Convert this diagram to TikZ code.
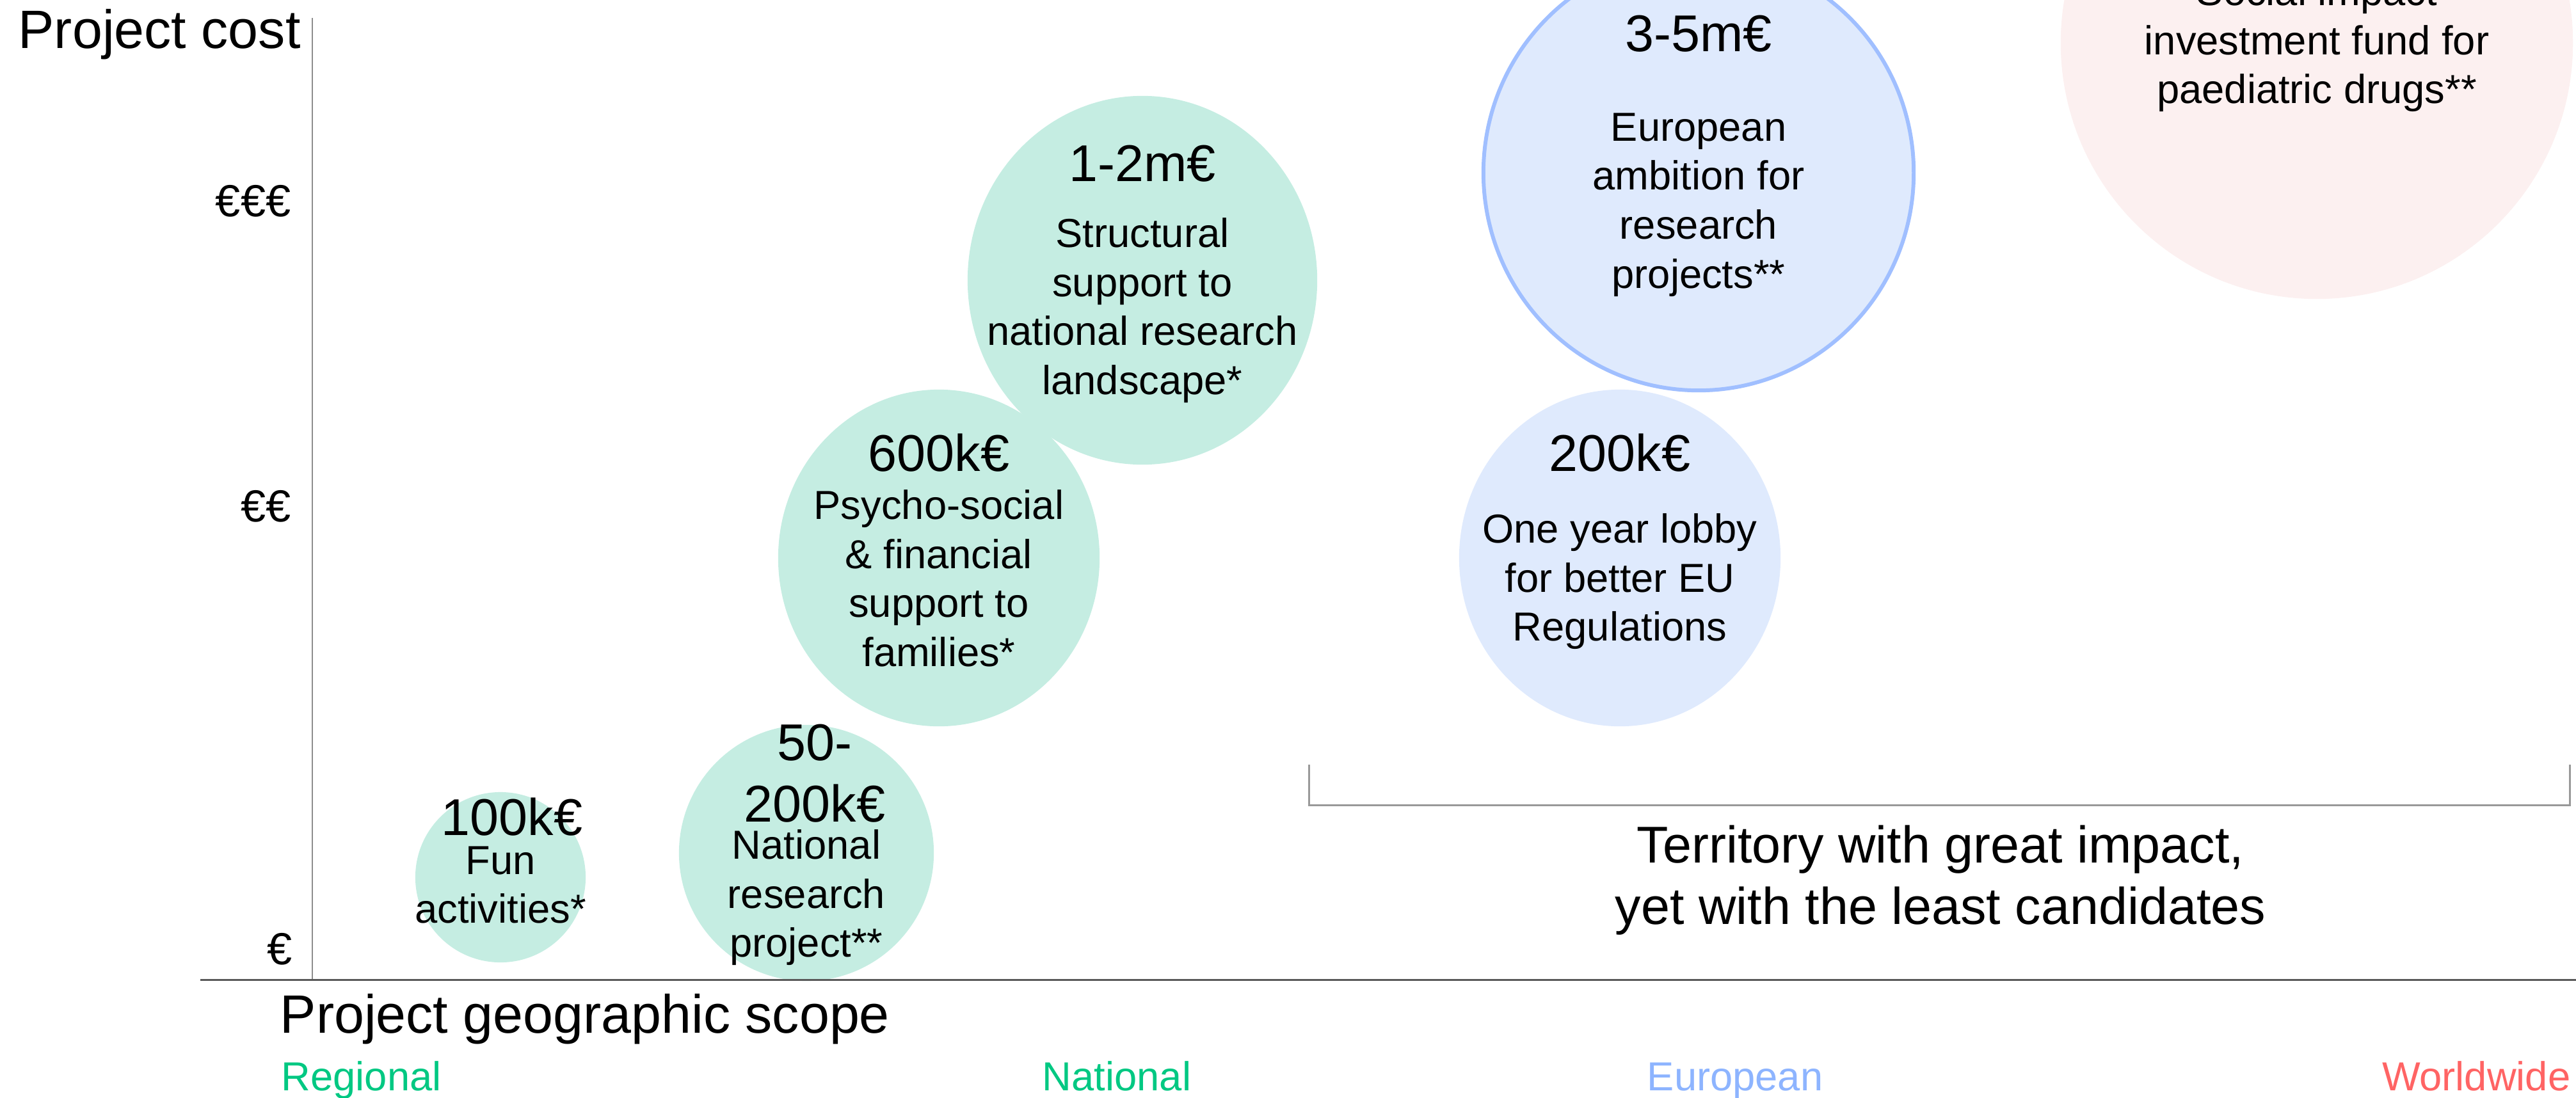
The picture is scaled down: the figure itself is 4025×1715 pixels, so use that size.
\documentclass[tikz,border=0pt]{standalone}
\usepackage{fontspec}
\setmainfont{Liberation Sans}
\usetikzlibrary{shapes.geometric}

\definecolor{natfill}{HTML}{C5EDE2}
\definecolor{eufill}{HTML}{DFEAFD}
\definecolor{euline}{HTML}{A0BFFF}
\definecolor{worldfill}{HTML}{FCF0F0}
\definecolor{natgreen}{HTML}{00C882}
\definecolor{eublue}{HTML}{8DB4FF}
\definecolor{worldred}{HTML}{FF6464}

\begin{document}
\begin{tikzpicture}[x=0.01cm, y=-0.01cm,
    bubble/.style={ellipse, inner sep=0pt},
    price/.style={font=\fontsize{23}{27.3}\selectfont, anchor=base, inner sep=0pt},
    blurb/.style={font=\fontsize{18}{21.8}\selectfont, align=center, anchor=north,
                  inner sep=0pt, execute at begin node=\strut},
    axistitle/.style={font=\fontsize{24}{28}\selectfont, anchor=base west, inner sep=0pt},
    costlabel/.style={font=\fontsize{20}{24}\selectfont, anchor=base east, inner sep=0pt},
    scopelabel/.style={font=\fontsize{18}{21.8}\selectfont, anchor=base, inner sep=0pt}]
        \useasboundingbox (0,0) rectangle (4025,1715);
        \clip (0,0) rectangle (4025,1715);

        % bubbles
        \node[bubble, fill=natfill, minimum width=2.66cm, minimum height=2.66cm] (fun)    at (782,1371) {};
        \node[bubble, fill=natfill, minimum width=3.98cm, minimum height=4cm]    (natres) at (1260,1333) {};
        \node[bubble, fill=natfill, minimum width=5.02cm, minimum height=5.26cm] (psy)    at (1467,872) {};
        \node[bubble, fill=natfill, minimum width=5.46cm, minimum height=5.76cm] (struct) at (1785,438) {};
        \node[bubble, fill=eufill, minimum width=5.02cm, minimum height=5.26cm]  (lobby)  at (2531,872) {};
        \node[bubble, fill=eufill, draw=euline, line width=1.7pt,
              minimum width=6.72cm, minimum height=6.8cm]                        (euro)   at (2654,270) {};
        \node[bubble, fill=worldfill, minimum width=8cm, minimum height=8cm]     (fund)   at (3620,67) {};

        % texts in the bubbles
        \node[price] (funP) at (800,1305) {100k€};
        \node[blurb] (funD) at (782,1322) {Fun\\activities*};
        \node[price, anchor=north, align=center, execute at begin node=\strut]
              (natresP) at (1273,1131) {50-\\200k€};
        \node[blurb] (natresD) at (1260,1296) {National\\research\\project**};
        \node[price] (psyP) at (1467,736) {600k€};
        \node[blurb] (psyD) at (1467,765) {Psycho-social\\\& financial\\support to\\families*};
        \node[price] (structP) at (1785,283) {1-2m€};
        \node[blurb] (structD) at (1785,340) {Structural\\support to\\national research\\landscape*};
        \node[price] (lobbyP) at (2531,736) {200k€};
        \node[blurb] (lobbyD) at (2531,802) {One year lobby\\for better EU\\Regulations};
        \node[price] (euroP) at (2654,80) {3-5m€};
        \node[blurb] (euroD) at (2654,176) {European\\ambition for\\research\\projects**};
        \node[blurb] (fundD) at (3620,-38) {Social impact\\investment fund for\\paediatric drugs**};

        % axes
        \coordinate (ytop) at (488,28);
        \coordinate (ybot) at (488,1530);
        \coordinate (xleft) at (313,1531);
        \coordinate (xright) at (4025,1531);
        \draw[line width=0.6pt, black!45] (ytop) -- (ybot);
        \draw[line width=0.85pt, black!65] (xleft) -- (xright);

        \node[axistitle] (costT) at (28,75) {Project cost};
        \node[costlabel] (c3) at (455,338) {€€€};
        \node[costlabel] (c2) at (455,815) {€€};
        \node[costlabel] (c1) at (457,1507) {€};
        \node[axistitle] (scopeT) at (437,1614) {Project geographic scope};
        \node[scopelabel, anchor=base west, text=natgreen] (regional) at (439,1704) {Regional};
        \node[scopelabel, text=natgreen] (national) at (1745,1704) {National};
        \node[scopelabel, text=eublue] (european) at (2711,1704) {European};
        \node[scopelabel, anchor=base east, text=worldred] (worldwide) at (4017,1704) {Worldwide};

        % bracket
        \coordinate (brLt) at (2045,1195);
        \coordinate (brL) at (2045,1258);
        \coordinate (brR) at (4015,1258);
        \coordinate (brRt) at (4015,1195);
        \draw[line width=0.85pt, black!40] (brLt) -- (brL) -- (brR) -- (brRt);
        \node[price, anchor=north, align=center, execute at begin node=\strut]
              (territory) at (3032,1289) {Territory with great impact,\\yet with the least candidates};
      \end{tikzpicture}
\end{document}
